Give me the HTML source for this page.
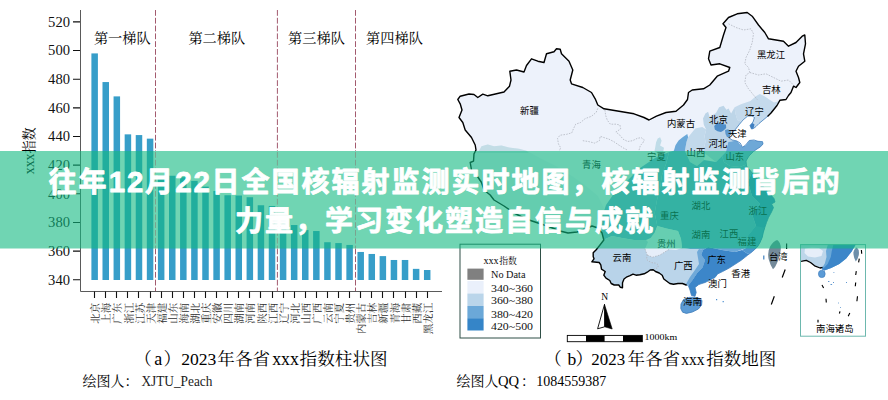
<!DOCTYPE html><html><head><meta charset="utf-8"><title>chart</title><style>html,body{margin:0;padding:0;background:#fff}body{width:888px;height:400px;overflow:hidden;font-family:"Liberation Serif",serif}svg{display:block}</style></head><body><svg width="888" height="400" viewBox="0 0 888 400"><defs><clipPath id="cn"><path d="M457.8 99.5L460.2 96.2L469.0 94.0L474.0 94.5L477.8 97.5L482.8 94.2L487.8 95.8L504.0 92.0L509.5 86.2L511.0 80.0L509.8 71.2L516.5 70.0L524.0 72.0L526.5 65.5L531.5 58.8L537.8 61.2L544.0 62.5L546.5 53.8L554.0 51.8L556.5 48.8L560.2 49.2L561.5 53.8L569.0 61.2L572.8 70.0L570.2 80.0L571.5 83.8L582.8 87.5L591.5 92.5L595.2 98.8L597.8 105.0L604.0 108.8L619.0 111.2L634.0 113.8L644.0 117.5L649.0 120.0L656.5 116.2L666.0 112.5L676.0 111.2L683.5 105.0L687.5 99.5L688.5 92.5L692.2 90.0L703.5 88.8L709.8 85.0L717.2 76.2L728.5 71.2L729.8 67.5L719.8 63.8L711.0 65.0L708.5 58.8L709.8 51.2L719.8 47.5L723.5 35.0L726.0 27.5L723.0 23.8L728.5 17.5L737.2 13.8L747.2 12.5L752.2 16.2L758.5 25.0L764.8 32.5L768.5 38.8L776.0 40.0L783.5 41.2L788.5 46.2L796.0 42.5L802.2 36.2L804.8 35.0L805.5 43.8L803.5 53.8L804.8 61.2L798.5 66.2L796.0 71.2L798.5 77.5L799.8 82.5L796.0 87.5L793.5 86.2L791.0 92.5L788.5 95.5L786.0 99.5L780.0 100.2L777.0 105.5L774.0 109.2L771.0 113.0L768.0 116.0L765.0 118.5L762.0 121.0L759.0 123.5L756.0 126.5L753.5 128.5L751.5 129.0L750.0 125.5L753.0 122.0L754.5 117.5L752.0 116.0L747.8 116.0L743.2 119.8L739.5 124.2L736.5 128.0L733.5 131.8L729.8 135.2L729.0 137.8L732.0 140.0L736.5 140.8L740.2 143.0L742.5 147.2L745.5 145.2L749.2 140.5L754.0 140.0L758.0 141.3L762.5 141.6L763.0 144.0L760.5 146.8L757.0 149.0L753.5 151.5L749.0 156.0L746.0 161.0L746.5 166.0L751.0 171.5L757.0 178.5L764.0 187.5L770.0 194.0L774.0 198.5L775.0 202.0L771.5 204.0L773.5 207.5L771.5 212.0L768.5 217.5L766.5 222.5L764.8 227.5L763.3 232.5L762.2 237.5L759.8 243.0L757.3 247.0L752.5 251.5L747.5 255.3L741.2 260.3L735.0 264.3L728.8 268.3L722.5 271.6L717.5 274.0L715.0 277.5L710.0 280.0L705.0 282.5L698.8 284.5L695.0 287.5L696.2 292.5L695.0 296.2L691.5 295.5L690.0 290.0L688.2 285.3L686.2 285.0L682.5 283.5L678.0 283.5L673.5 284.2L669.8 283.5L666.8 281.2L663.8 279.0L662.2 275.2L659.2 273.0L655.5 271.5L653.2 269.7L650.2 270.0L647.2 272.2L644.2 273.8L639.8 274.8L636.0 275.2L633.0 274.2L630.0 275.7L627.0 276.8L624.0 279.0L622.5 282.8L622.5 287.7L620.2 287.2L618.8 285.0L614.2 285.0L611.2 283.5L609.8 280.5L606.0 278.2L603.8 275.2L605.2 271.5L601.5 269.2L600.8 264.8L599.2 262.5L591.8 261.8L594.0 258.8L593.2 256.5L593.2 252.8L596.2 249.8L599.2 246.0L603.8 240.0L602.0 233.0L598.0 228.0L592.0 226.0L585.0 229.0L577.0 232.0L568.0 233.0L560.0 231.0L550.0 227.0L538.0 223.0L526.0 219.0L514.0 213.0L504.0 206.0L494.0 200.0L490.2 195.0L484.0 190.0L481.5 182.5L476.5 175.0L471.5 170.0L470.2 162.5L473.5 161.2L474.0 153.8L476.0 150.0L475.2 145.0L471.5 137.5L465.2 130.0L462.8 122.5L459.0 117.5L462.0 110.0L460.2 103.8L457.8 99.5Z"/></clipPath></defs><g fill="#379ec9"><rect x="91.40" y="53.41" width="6.50" height="226.59"/><rect x="102.49" y="82.06" width="6.50" height="197.94"/><rect x="113.57" y="96.39" width="6.50" height="183.61"/><rect x="124.66" y="134.35" width="6.50" height="145.65"/><rect x="135.74" y="135.07" width="6.50" height="144.93"/><rect x="146.83" y="138.65" width="6.50" height="141.35"/><rect x="157.91" y="175.18" width="6.50" height="104.82"/><rect x="169.00" y="175.75" width="6.50" height="104.25"/><rect x="180.08" y="177.18" width="6.50" height="102.82"/><rect x="191.17" y="180.91" width="6.50" height="99.09"/><rect x="202.25" y="186.64" width="6.50" height="93.36"/><rect x="213.34" y="190.94" width="6.50" height="89.06"/><rect x="224.42" y="195.23" width="6.50" height="84.77"/><rect x="235.51" y="195.52" width="6.50" height="84.48"/><rect x="246.59" y="197.24" width="6.50" height="82.76"/><rect x="257.68" y="205.26" width="6.50" height="74.74"/><rect x="268.76" y="205.98" width="6.50" height="74.02"/><rect x="279.85" y="223.88" width="6.50" height="56.12"/><rect x="290.93" y="225.03" width="6.50" height="54.97"/><rect x="302.01" y="230.04" width="6.50" height="49.96"/><rect x="313.10" y="231.04" width="6.50" height="48.96"/><rect x="324.19" y="242.22" width="6.50" height="37.78"/><rect x="335.27" y="243.08" width="6.50" height="36.92"/><rect x="346.36" y="244.94" width="6.50" height="35.06"/><rect x="357.44" y="251.96" width="6.50" height="28.04"/><rect x="368.52" y="253.96" width="6.50" height="26.04"/><rect x="379.61" y="256.11" width="6.50" height="23.89"/><rect x="390.70" y="259.98" width="6.50" height="20.02"/><rect x="401.78" y="259.98" width="6.50" height="20.02"/><rect x="412.87" y="268.86" width="6.50" height="11.14"/><rect x="423.95" y="270.01" width="6.50" height="9.99"/></g><path d="M155.5 10V151M155.5 248.5V291" fill="none" stroke="#a35a6e" stroke-width="1" stroke-dasharray="5.8 2"/><path d="M277.4 10V151M277.4 248.5V291" fill="none" stroke="#a35a6e" stroke-width="1" stroke-dasharray="5.8 2"/><path d="M355.5 10V151M355.5 248.5V291" fill="none" stroke="#a35a6e" stroke-width="1" stroke-dasharray="5.8 2"/><path d="M80.5 10V291.5H442" fill="none" stroke="#5a5a5a" stroke-width="1"/><path d="M73 279.75H80M73 251.10H80M73 222.45H80M73 193.80H80M73 165.15H80M73 136.50H80M73 107.85H80M73 79.20H80M73 50.55H80M73 21.90H80M94.5 291.5V298M105.5 291.5V298M116.5 291.5V298M127.5 291.5V298M138.5 291.5V298M150.5 291.5V298M161.5 291.5V298M172.5 291.5V298M183.5 291.5V298M194.5 291.5V298M205.5 291.5V298M216.5 291.5V298M227.5 291.5V298M238.5 291.5V298M249.5 291.5V298M260.5 291.5V298M272.5 291.5V298M283.5 291.5V298M294.5 291.5V298M305.5 291.5V298M316.5 291.5V298M327.5 291.5V298M338.5 291.5V298M349.5 291.5V298M360.5 291.5V298M371.5 291.5V298M382.5 291.5V298M393.5 291.5V298M405.5 291.5V298M416.5 291.5V298M427.5 291.5V298" fill="none" stroke="#111" stroke-width="1.1"/><g font-family='"Liberation Serif",serif' font-size="14.6" text-anchor="end" fill="#111"><text x="70" y="284.65">340</text><text x="70" y="256.00">360</text><text x="70" y="227.35">380</text><text x="70" y="198.70">400</text><text x="70" y="170.05">420</text><text x="70" y="141.40">440</text><text x="70" y="112.75">460</text><text x="70" y="84.10">480</text><text x="70" y="55.45">500</text><text x="70" y="26.80">520</text></g><g font-family='"Liberation Serif","Noto Serif CJK SC",serif' font-size="14.2" fill="#000"><text x="93.9" y="42.6">第一梯队</text><text x="188.4" y="42.6">第二梯队</text><text x="288.1" y="42.6">第三梯队</text><text x="366.1" y="42.6">第四梯队</text></g><g transform="translate(34.3 153.6) rotate(-90)"><text x="0" y="0" font-family='"Liberation Serif","Noto Serif CJK SC",serif' font-size="13.2">指数</text><text x="-20.6" y="0" font-family='"Liberation Serif",serif' font-size="13.8">xxx</text></g><g fill="#303030" font-family='"Liberation Serif","Noto Serif CJK SC",serif' font-size="10.5" text-anchor="end"><text transform="translate(99.25 302.8) rotate(-90)" x="0" y="0">北京</text><text transform="translate(110.34 302.8) rotate(-90)" x="0" y="0">上海</text><text transform="translate(121.42 302.8) rotate(-90)" x="0" y="0">广东</text><text transform="translate(132.50 302.8) rotate(-90)" x="0" y="0">浙江</text><text transform="translate(143.59 302.8) rotate(-90)" x="0" y="0">江苏</text><text transform="translate(154.68 302.8) rotate(-90)" x="0" y="0">天津</text><text transform="translate(165.76 302.8) rotate(-90)" x="0" y="0">福建</text><text transform="translate(176.84 302.8) rotate(-90)" x="0" y="0">山东</text><text transform="translate(187.93 302.8) rotate(-90)" x="0" y="0">海南</text><text transform="translate(199.02 302.8) rotate(-90)" x="0" y="0">湖北</text><text transform="translate(210.10 302.8) rotate(-90)" x="0" y="0">重庆</text><text transform="translate(221.19 302.8) rotate(-90)" x="0" y="0">安徽</text><text transform="translate(232.27 302.8) rotate(-90)" x="0" y="0">四川</text><text transform="translate(243.36 302.8) rotate(-90)" x="0" y="0">湖南</text><text transform="translate(254.44 302.8) rotate(-90)" x="0" y="0">河南</text><text transform="translate(265.53 302.8) rotate(-90)" x="0" y="0">陕西</text><text transform="translate(276.61 302.8) rotate(-90)" x="0" y="0">江西</text><text transform="translate(287.70 302.8) rotate(-90)" x="0" y="0">辽宁</text><text transform="translate(298.78 302.8) rotate(-90)" x="0" y="0">河北</text><text transform="translate(309.87 302.8) rotate(-90)" x="0" y="0">山西</text><text transform="translate(320.95 302.8) rotate(-90)" x="0" y="0">广西</text><text transform="translate(332.04 302.8) rotate(-90)" x="0" y="0">云南</text><text transform="translate(343.12 302.8) rotate(-90)" x="0" y="0">宁夏</text><text transform="translate(354.21 302.8) rotate(-90)" x="0" y="0">贵州</text><text transform="translate(365.29 302.8) rotate(-90)" x="0" y="0">内蒙古</text><text transform="translate(376.38 302.8) rotate(-90)" x="0" y="0">吉林</text><text transform="translate(387.46 302.8) rotate(-90)" x="0" y="0">新疆</text><text transform="translate(398.55 302.8) rotate(-90)" x="0" y="0">青海</text><text transform="translate(409.63 302.8) rotate(-90)" x="0" y="0">甘肃</text><text transform="translate(420.72 302.8) rotate(-90)" x="0" y="0">西藏</text><text transform="translate(431.80 302.8) rotate(-90)" x="0" y="0">黑龙江</text></g><text x="134.2" y="365.2" font-family='"Liberation Serif","Noto Serif CJK SC",serif' font-size="17.6">（</text><text x="154.2" y="365.2" font-family='"Liberation Serif",serif' font-size="18.0">a</text><text x="163.6" y="365.2" font-family='"Liberation Serif","Noto Serif CJK SC",serif' font-size="17.6">）</text><text x="181.2" y="365.2" font-family='"Liberation Serif",serif' font-size="17.6" textLength="35.2" lengthAdjust="spacingAndGlyphs">2023</text><text x="217.3" y="365.2" font-family='"Liberation Serif","Noto Serif CJK SC",serif' font-size="17.6">年各省</text><text x="272.2" y="365.2" font-family='"Liberation Serif",serif' font-size="18.0" textLength="26.8" lengthAdjust="spacingAndGlyphs">xxx</text><text x="299.6" y="365.2" font-family='"Liberation Serif","Noto Serif CJK SC",serif' font-size="17.6">指数柱状图</text><text x="82.5" y="386" font-family='"Liberation Serif","Noto Serif CJK SC",serif' font-size="14">绘图人：</text><text x="141.4" y="386" font-family='"Liberation Serif",serif' font-size="14" fill="#222" textLength="71" lengthAdjust="spacingAndGlyphs">XJTU_Peach</text><path d="M457.8 99.5L460.2 96.2L469.0 94.0L474.0 94.5L477.8 97.5L482.8 94.2L487.8 95.8L504.0 92.0L509.5 86.2L511.0 80.0L509.8 71.2L516.5 70.0L524.0 72.0L526.5 65.5L531.5 58.8L537.8 61.2L544.0 62.5L546.5 53.8L554.0 51.8L556.5 48.8L560.2 49.2L561.5 53.8L569.0 61.2L572.8 70.0L570.2 80.0L571.5 83.8L582.8 87.5L591.5 92.5L595.2 98.8L597.8 105.0L604.0 108.8L619.0 111.2L634.0 113.8L644.0 117.5L649.0 120.0L656.5 116.2L666.0 112.5L676.0 111.2L683.5 105.0L687.5 99.5L688.5 92.5L692.2 90.0L703.5 88.8L709.8 85.0L717.2 76.2L728.5 71.2L729.8 67.5L719.8 63.8L711.0 65.0L708.5 58.8L709.8 51.2L719.8 47.5L723.5 35.0L726.0 27.5L723.0 23.8L728.5 17.5L737.2 13.8L747.2 12.5L752.2 16.2L758.5 25.0L764.8 32.5L768.5 38.8L776.0 40.0L783.5 41.2L788.5 46.2L796.0 42.5L802.2 36.2L804.8 35.0L805.5 43.8L803.5 53.8L804.8 61.2L798.5 66.2L796.0 71.2L798.5 77.5L799.8 82.5L796.0 87.5L793.5 86.2L791.0 92.5L788.5 95.5L786.0 99.5L780.0 100.2L777.0 105.5L774.0 109.2L771.0 113.0L768.0 116.0L765.0 118.5L762.0 121.0L759.0 123.5L756.0 126.5L753.5 128.5L751.5 129.0L750.0 125.5L753.0 122.0L754.5 117.5L752.0 116.0L747.8 116.0L743.2 119.8L739.5 124.2L736.5 128.0L733.5 131.8L729.8 135.2L729.0 137.8L732.0 140.0L736.5 140.8L740.2 143.0L742.5 147.2L745.5 145.2L749.2 140.5L754.0 140.0L758.0 141.3L762.5 141.6L763.0 144.0L760.5 146.8L757.0 149.0L753.5 151.5L749.0 156.0L746.0 161.0L746.5 166.0L751.0 171.5L757.0 178.5L764.0 187.5L770.0 194.0L774.0 198.5L775.0 202.0L771.5 204.0L773.5 207.5L771.5 212.0L768.5 217.5L766.5 222.5L764.8 227.5L763.3 232.5L762.2 237.5L759.8 243.0L757.3 247.0L752.5 251.5L747.5 255.3L741.2 260.3L735.0 264.3L728.8 268.3L722.5 271.6L717.5 274.0L715.0 277.5L710.0 280.0L705.0 282.5L698.8 284.5L695.0 287.5L696.2 292.5L695.0 296.2L691.5 295.5L690.0 290.0L688.2 285.3L686.2 285.0L682.5 283.5L678.0 283.5L673.5 284.2L669.8 283.5L666.8 281.2L663.8 279.0L662.2 275.2L659.2 273.0L655.5 271.5L653.2 269.7L650.2 270.0L647.2 272.2L644.2 273.8L639.8 274.8L636.0 275.2L633.0 274.2L630.0 275.7L627.0 276.8L624.0 279.0L622.5 282.8L622.5 287.7L620.2 287.2L618.8 285.0L614.2 285.0L611.2 283.5L609.8 280.5L606.0 278.2L603.8 275.2L605.2 271.5L601.5 269.2L600.8 264.8L599.2 262.5L591.8 261.8L594.0 258.8L593.2 256.5L593.2 252.8L596.2 249.8L599.2 246.0L603.8 240.0L602.0 233.0L598.0 228.0L592.0 226.0L585.0 229.0L577.0 232.0L568.0 233.0L560.0 231.0L550.0 227.0L538.0 223.0L526.0 219.0L514.0 213.0L504.0 206.0L494.0 200.0L490.2 195.0L484.0 190.0L481.5 182.5L476.5 175.0L471.5 170.0L470.2 162.5L473.5 161.2L474.0 153.8L476.0 150.0L475.2 145.0L471.5 137.5L465.2 130.0L462.8 122.5L459.0 117.5L462.0 110.0L460.2 103.8L457.8 99.5Z" fill="#edf2fb"/><g clip-path="url(#cn)"><path d="M470.0 150.0L479.0 150.0L481.5 146.2L487.8 144.5L494.0 146.2L501.5 145.5L509.0 147.5L519.0 148.8L526.5 150.8L540.0 158.0L556.0 166.0L572.0 176.0L586.0 186.0L598.0 196.0L604.0 208.0L602.0 220.0L604.0 234.0L606.0 246.0L560.0 242.0L500.0 218.0L468.0 175.0Z" fill="#e2ebf6"/><path d="M476.0 153.0L479.0 151.0L481.5 146.2L487.8 144.5L494.0 146.2L501.5 145.5L509.0 147.5L519.0 148.8L526.5 150.8L529.0 153.0Z" fill="#c3dde6"/><path d="M734.6 107.3L740.9 104.2L750.4 101.0L755.9 96.3L759.8 94.0L764.5 96.3L769.3 99.5L774.0 102.6L780.0 101.0L784.0 100.0L776.0 110.0L768.0 119.0L758.0 128.0L751.0 132.0L748.5 126.0L753.0 120.0L755.0 116.5L748.0 115.5L743.0 120.0L740.9 121.5L737.4 120.0L735.4 113.6Z" fill="#c5daec"/><path d="M705.4 113.6L708.1 111.8L709.7 117.1L712.2 115.2L716.0 112.9L719.1 107.3L723.6 105.8L726.4 109.7L728.6 108.6L731.1 113.6L734.6 107.3L735.4 113.6L737.4 120.0L742.0 122.0L736.0 130.0L731.5 137.0L734.0 141.0L728.3 142.0L725.9 152.0L716.0 162.0L703.0 152.0L705.4 142.0L704.6 135.7L706.2 129.4L703.8 124.7L703.0 118.4Z" fill="#bdd5e8"/><path d="M714.2 126.0L716.5 123.6L720.5 123.0L723.5 124.2L726.0 124.5L726.2 128.0L723.5 130.5L721.0 132.0L717.5 131.2L714.8 129.6Z" fill="#4e8dc8"/><path d="M725.0 130.0L728.0 129.2L730.8 131.0L731.0 134.5L729.5 137.5L727.0 137.0L725.5 134.0Z" fill="#5e99cc"/><path d="M692.0 132.6L695.2 128.6L702.3 127.0L706.2 129.4L704.6 135.7L705.4 142.0L703.0 152.0L704.0 160.0L697.0 166.0L690.0 162.0L684.9 150.7L686.5 142.0L688.1 137.3Z" fill="#c2d9eb"/><path d="M656.1 142.3L657.7 138.4L660.1 137.3L661.6 140.7L660.1 145.4L664.0 147.8L663.2 152.0L658.0 154.0L654.5 151.0L655.3 147.0Z" fill="#bfdce8"/><path d="M687.3 134.1L688.1 137.3L686.5 142.0L684.9 150.7L690.0 162.0L697.0 166.0L704.0 160.0L716.0 162.0L722.0 156.0L724.0 162.0L730.0 166.0L740.0 167.0L750.0 163.0L752.0 172.0L748.0 182.0L752.0 196.0L760.0 204.0L752.0 214.0L756.0 226.0L748.0 236.0L746.0 248.0L735.0 252.0L722.0 250.0L708.0 247.0L703.0 250.0L690.0 249.0L682.0 248.0L681.0 239.0L678.0 231.0L666.4 228.6L657.3 226.0L654.7 213.0L657.0 200.0L660.0 188.0L662.0 175.0L666.0 164.0L669.0 152.0L673.9 150.7L675.5 145.2L678.6 140.4L682.6 137.3Z" fill="#6aa8d8"/><path d="M669.0 152.0L655.0 158.0L640.0 168.0L628.0 180.0L615.0 192.0L606.0 205.0L601.0 220.0L602.0 234.0L603.0 240.0L612.0 236.0L622.0 238.0L634.0 240.0L646.0 240.0L655.0 236.0L655.0 232.0L657.3 226.0L654.7 213.0L657.0 200.0L660.0 188.0L662.0 175.0L666.0 164.0Z" fill="#71abd9"/><path d="M725.9 152.0L728.3 142.0L734.0 141.0L737.0 141.0L742.5 147.0L746.0 145.0L750.0 140.0L758.0 141.0L764.0 142.0L764.0 147.0L756.0 150.0L750.0 157.0L750.0 163.0L740.0 167.0L730.0 166.0L724.0 162.0L722.0 156.0Z" fill="#6ea8d7"/><path d="M750.0 163.0L750.0 156.0L757.0 168.0L766.0 186.0L776.0 196.0L777.0 203.0L776.0 214.0L770.0 226.0L765.0 238.0L758.0 250.0L750.0 246.0L748.0 236.0L756.0 226.0L752.0 214.0L760.0 204.0L752.0 196.0L748.0 182.0L752.0 172.0Z" fill="#4189cb"/><path d="M746.0 248.0L748.0 236.0L756.0 226.0L765.0 228.0L766.0 236.0L760.0 246.0L754.0 252.0L748.0 254.0L742.0 250.0Z" fill="#4f96d0"/><path d="M655.0 232.0L657.3 226.0L666.4 228.6L678.0 231.0L681.0 239.0L682.0 248.0L676.0 250.0L669.0 249.5L666.0 251.2L660.0 255.0L652.5 257.2L647.2 255.0L645.0 249.0L648.0 242.0L652.0 236.0Z" fill="#e6eef9"/><path d="M603.0 240.0L612.0 236.0L622.0 238.0L634.0 240.0L646.0 240.0L648.0 242.0L645.0 249.0L647.2 255.0L646.5 259.5L651.0 262.5L655.5 263.2L658.5 264.8L657.8 267.8L654.0 269.2L652.0 274.0L640.0 282.0L624.0 294.0L600.0 284.0L586.0 260.0L596.0 244.0Z" fill="#b8d3e9"/><path d="M647.2 255.0L652.5 257.2L660.0 255.0L666.0 251.2L669.0 249.5L676.0 250.0L682.0 248.0L690.0 249.0L699.0 249.0L703.0 250.0L701.2 255.0L705.0 260.0L702.5 267.5L697.5 272.5L692.5 280.0L688.8 287.0L676.0 290.0L664.0 288.0L656.0 276.0L652.0 272.0L654.0 269.2L657.8 267.8L658.5 264.8L655.5 263.2L651.0 262.5L646.5 259.5Z" fill="#bbd5ea"/><path d="M699.0 249.0L703.0 250.0L701.2 255.0L705.0 260.0L702.5 267.5L697.5 272.5L692.5 280.0L688.8 285.0L686.0 284.0L690.0 277.0L695.0 270.0L699.0 264.0L698.0 258.0L697.0 252.0Z" fill="#70a9d8"/><path d="M703.0 250.0L708.0 247.0L722.0 250.0L735.0 252.0L742.0 250.0L748.0 254.0L760.0 250.0L750.0 262.0L730.0 274.0L712.0 282.0L700.0 284.0L700.0 298.0L690.0 298.0L688.8 285.0L692.5 280.0L697.5 272.5L702.5 267.5L705.0 260.0L701.2 255.0Z" fill="#3c86c9"/><path d="M750.0 125.0L752.5 123.0L754.5 124.5L753.5 128.5L751.5 130.5L749.8 129.0Z" fill="#3f7fc2"/></g><path d="M645.0 249.0L647.2 255.0L646.5 259.5L651.0 262.5L655.5 263.2L658.5 264.8L657.8 267.8L654.0 269.2M647.2 255.0L652.5 257.2L660.0 255.0L666.0 251.2L669.0 249.5M597.8 108.4L596.2 112.3L591.5 116.3L585.2 118.6L580.4 122.6L575.7 124.2L573.4 128.9L571.8 132.8L566.3 134.4L560.0 135.2L557.6 138.4L558.4 143.9L560.7 147.8L559.2 151.0M604.9 110.0L605.7 115.5L607.3 120.2L610.4 124.2L615.9 124.2L619.9 125.0L620.7 128.9L615.9 132.0L619.9 135.2L623.0 139.1L627.7 141.5L632.5 140.7L637.2 138.4L641.1 137.6L644.3 139.9L642.7 143.1L640.4 145.4L638.8 151.0M582.8 140.7L588.3 141.5L594.6 143.1L599.4 140.7L600.2 136.3L604.1 137.6L608.8 139.1L613.6 141.5L618.3 144.7L623.0 147.8L627.7 150.2M728.5 23.8L736.0 27.5L743.5 30.0L751.0 28.8L753.5 33.8L752.2 42.5L749.8 50.0L746.0 57.5L744.8 63.8L748.5 67.5L749.8 72.5L746.0 75.0L744.8 82.5L748.5 88.8L753.5 95.0L757.2 99.5M749.8 72.5L758.5 75.0L766.0 73.8L773.5 77.5L781.0 81.2L788.5 80.0L793.5 85.0L796.0 87.5" fill="none" stroke="#a9adb8" stroke-width="0.7" stroke-dasharray="1.6 1.2"/><path d="M768.0 116.0L765.0 118.5L762.0 121.0L759.0 123.5L756.0 126.5L753.5 128.5L751.5 129.0L750.0 125.5L753.0 122.0L754.5 117.5L752.0 116.0L747.8 116.0L743.2 119.8L739.5 124.2L736.5 128.0L733.5 131.8L729.8 135.2L729.0 137.8L732.0 140.0L736.5 140.8L740.2 143.0L742.5 147.2L745.5 145.2L749.2 140.5L754.0 140.0L758.0 141.3L762.5 141.6L763.0 144.0L760.5 146.8L757.0 149.0L753.5 151.5L749.0 156.0L746.0 161.0L746.5 166.0L751.0 171.5L757.0 178.5L764.0 187.5L770.0 194.0L774.0 198.5L775.0 202.0L771.5 204.0L773.5 207.5L771.5 212.0L768.5 217.5L766.5 222.5L764.8 227.5L763.3 232.5L762.2 237.5L759.8 243.0L757.3 247.0L752.5 251.5L747.5 255.3L741.2 260.3L735.0 264.3L728.8 268.3L722.5 271.6L717.5 274.0L715.0 277.5L710.0 280.0L705.0 282.5L698.8 284.5L695.0 287.5L696.2 292.5L695.0 296.2L691.5 295.5L690.0 290.0L688.2 285.3L686.2 285.0" fill="none" stroke="#3f7fbe" stroke-width="0.8" stroke-linejoin="round"/><path d="M457.8 99.5L460.2 96.2L469.0 94.0L474.0 94.5L477.8 97.5L482.8 94.2L487.8 95.8L504.0 92.0L509.5 86.2L511.0 80.0L509.8 71.2L516.5 70.0L524.0 72.0L526.5 65.5L531.5 58.8L537.8 61.2L544.0 62.5L546.5 53.8L554.0 51.8L556.5 48.8L560.2 49.2L561.5 53.8L569.0 61.2L572.8 70.0L570.2 80.0L571.5 83.8L582.8 87.5L591.5 92.5L595.2 98.8L597.8 105.0L604.0 108.8L619.0 111.2L634.0 113.8L644.0 117.5L649.0 120.0L656.5 116.2L666.0 112.5L676.0 111.2L683.5 105.0L687.5 99.5L688.5 92.5L692.2 90.0L703.5 88.8L709.8 85.0L717.2 76.2L728.5 71.2L729.8 67.5L719.8 63.8L711.0 65.0L708.5 58.8L709.8 51.2L719.8 47.5L723.5 35.0L726.0 27.5L723.0 23.8L728.5 17.5L737.2 13.8L747.2 12.5L752.2 16.2L758.5 25.0L764.8 32.5L768.5 38.8L776.0 40.0L783.5 41.2L788.5 46.2L796.0 42.5L802.2 36.2L804.8 35.0L805.5 43.8L803.5 53.8L804.8 61.2L798.5 66.2L796.0 71.2L798.5 77.5L799.8 82.5L796.0 87.5L793.5 86.2L791.0 92.5L788.5 95.5L786.0 99.5L780.0 100.2L777.0 105.5L774.0 109.2L771.0 113.0L768.0 116.0M686.2 285.0L682.5 283.5L678.0 283.5L673.5 284.2L669.8 283.5L666.8 281.2L663.8 279.0L662.2 275.2L659.2 273.0L655.5 271.5L653.2 269.7L650.2 270.0L647.2 272.2L644.2 273.8L639.8 274.8L636.0 275.2L633.0 274.2L630.0 275.7L627.0 276.8L624.0 279.0L622.5 282.8L622.5 287.7L620.2 287.2L618.8 285.0L614.2 285.0L611.2 283.5L609.8 280.5L606.0 278.2L603.8 275.2L605.2 271.5L601.5 269.2L600.8 264.8L599.2 262.5L591.8 261.8L594.0 258.8L593.2 256.5L593.2 252.8L596.2 249.8L599.2 246.0L603.8 240.0L602.0 233.0L598.0 228.0L592.0 226.0L585.0 229.0L577.0 232.0L568.0 233.0L560.0 231.0L550.0 227.0L538.0 223.0L526.0 219.0L514.0 213.0L504.0 206.0L494.0 200.0L490.2 195.0L484.0 190.0L481.5 182.5L476.5 175.0L471.5 170.0L470.2 162.5L473.5 161.2L474.0 153.8L476.0 150.0L475.2 145.0L471.5 137.5L465.2 130.0L462.8 122.5L459.0 117.5L462.0 110.0L460.2 103.8L457.8 99.5" fill="none" stroke="#000" stroke-width="1.4" stroke-linejoin="round" stroke-linecap="round"/><path d="M681 304L683.6 299.4L689.5 297.4L695 297.2L699.5 298.4L702 300.4L701.6 305L698.4 309L692.4 312L686.4 313.4L682.6 312.2L680.8 308.6Z" fill="#5b9bd6" stroke="#3a78b8" stroke-width="0.8" stroke-linejoin="round"/><path d="M716 299.6h1.2M722.6 301.6h1.2" stroke="#4d8fd0" stroke-width="1.2" fill="none"/><path d="M777.2 240Q781 242.5 780.8 249Q780 257 776.8 263.5Q775 268 773 269.3Q770.4 265.5 768.6 259Q767.2 251.5 770.4 246Q773.6 241.2 777.2 240Z" fill="#748a9a"/><path d="M785.2 269.5L782.2 277.5M774.3 296.3L771.3 304.5M786.6 243.5V249" stroke="#000" stroke-width="1.2" fill="none"/><path d="M763.8 255.5v4" stroke="#3f7fbe" stroke-width="1.2"/><g font-family='"Liberation Sans","Noto Sans CJK SC",sans-serif' font-size="9.4" fill="#000"><text x="756.9" y="57.6">黑龙江</text><text x="761.9" y="92.6">吉林</text><text x="745.1" y="114.6">辽宁</text><text x="520.1" y="113.6">新疆</text><text x="666.9" y="127.3">内蒙古</text><text x="709.0" y="123.4">北京</text><text x="727.9" y="136.8">天津</text><text x="708.4" y="147.4">河北</text><text x="686.6" y="155.6">山西</text><text x="725.4" y="160.0">山东</text><text x="647.1" y="160.0">宁夏</text><text x="582.1" y="168.0">青海</text><text x="691.6" y="209.3">湖北</text><text x="660.1" y="218.6">重庆</text><text x="748.6" y="214.2">浙江</text><text x="691.6" y="238.4">湖南</text><text x="719.6" y="236.6">江西</text><text x="737.6" y="245.3">福建</text><text x="656.9" y="246.6">贵州</text><text x="612.6" y="260.6">云南</text><text x="673.9" y="269.4">广西</text><text x="707.2" y="263.0">广东</text><text x="731.3" y="277.0">香港</text><text x="708.0" y="287.3">澳门</text><text x="768.9" y="259.6">台湾</text><text x="683.1" y="305.4">海南</text></g><rect x="460" y="244.2" width="80.5" height="93.8" fill="#fff" stroke="#2f4f46" stroke-width="1"/><g transform="translate(499.3 263.7)"><text x="0" y="0" font-family='"Liberation Serif","Noto Serif CJK SC",serif' font-size="8.8">指数</text><text x="-0.6" y="0" text-anchor="end" font-family='"Liberation Serif",serif' font-size="10.2">xxx</text></g><rect x="467.4" y="268.6" width="16.2" height="11.2" fill="#808080"/><rect x="467.4" y="281.0" width="16.2" height="12.5" fill="#eaf0fb"/><rect x="467.4" y="293.5" width="16.2" height="12.5" fill="#bad5ea"/><rect x="467.4" y="306.0" width="16.2" height="12.2" fill="#6ba8d8"/><rect x="467.4" y="318.2" width="16.2" height="12.3" fill="#3585c8"/><g font-family='"Liberation Serif",serif' font-size="11" fill="#111"><text x="491" y="277.9" textLength="34.5" lengthAdjust="spacingAndGlyphs">No Data</text><text x="491" y="291.7" textLength="42" lengthAdjust="spacingAndGlyphs">340~360</text><text x="491" y="304.3" textLength="42" lengthAdjust="spacingAndGlyphs">360~380</text><text x="491" y="317.8" textLength="42" lengthAdjust="spacingAndGlyphs">380~420</text><text x="491" y="329.9" textLength="42" lengthAdjust="spacingAndGlyphs">420~500</text></g><text x="604.8" y="299.6" text-anchor="middle" font-family='"Liberation Serif",serif' font-size="9.5">N</text><path d="M604.5 304.4L612.2 329L604.6 326.8Z" fill="#000" stroke="#000" stroke-width="0.6" stroke-linejoin="round"/><path d="M604.5 304.4L597.6 328.8L604.6 326.8Z" fill="#fff" stroke="#000" stroke-width="0.9" stroke-linejoin="round"/><rect x="567.3" y="335.4" width="75" height="6.3" fill="#fff" stroke="#000" stroke-width="0.9"/><path d="M586 335.4h18.6v6.3h-18.6zM623 335.4h19.3v6.3h-19.3z" fill="#000"/><text x="644.6" y="340.4" font-family='"Liberation Serif",serif' font-size="8.4" textLength="32.5" lengthAdjust="spacingAndGlyphs">1000km</text><clipPath id="ins"><rect x="800.5" y="244.6" width="65" height="91.6"/></clipPath><rect x="800.5" y="244.6" width="65" height="91.6" fill="#fff"/><g clip-path="url(#ins)"><path d="M800 244H850L846 258L839 264L831 268L824.5 270.5L822.5 267.6L820 268L814.6 265.8L810.5 262.5L806.3 260.3L800 261.3Z" fill="#bdd6ea"/><path d="M805 248.5L812 247.5L819 248L823 251L821.5 256L815 257.5L808 256.5L804.5 253Z" fill="#e6eef9"/><path d="M828 244H856L851.7 251.5L846.2 258.4L839.3 263.9L831.1 268L824.2 270.4L821.8 268.5L824.8 263.5L826.5 257L826 251Z" fill="#6aa8d8"/><path d="M833.5 244H856L851.7 251.5L846.2 258.4L839.3 263.9L831.1 268L824.2 270.4L823.4 268.5L827.6 263.9L830.8 257L831.7 251.5Z" fill="#3c86c9"/><path d="M800 261.3L802.2 261.1L806.3 260.3L810.5 262.5L814.6 265.8L820.1 268L822.8 267.4" fill="none" stroke="#000" stroke-width="1.3" stroke-linejoin="round"/><path d="M822.6 267.5L823.2 270" stroke="#3c86c9" stroke-width="1.6"/><ellipse cx="821.8" cy="273.9" rx="3.4" ry="3.7" fill="#5b9bd6" stroke="#3a78b8" stroke-width="0.6"/><path d="M856.8 247.6Q859.6 249.8 858.8 255Q857.8 259.4 855.8 261.6Q853.4 257.2 853.4 252.6Q854.2 248.6 856.8 247.6Z" fill="#6d8eaa"/><path d="M861.4 250L861.7 253.8M859.3 258.6L858.6 262.4M856.3 271.2L855.7 275M855.7 282.5L855.3 286.2M857.5 296.2L856.9 301.2M849.8 313L848.2 316.3M826 298.7L826.3 302.5M822 285L823.6 288M818 319.8V322.6M837 329L838.5 331M840 311.3l-.6 2.2" stroke="#000" stroke-width="1.15" fill="none"/><path d="M828 281.5h1.4M830.5 284.5h1.6M833 282.5h1M846 282.5h1M833.5 272.5h.8M838 303h.8M840 307.5h.8" stroke="#5f97cf" stroke-width="1" fill="none"/></g><rect x="800.5" y="244.6" width="65" height="91.6" fill="none" stroke="#6db8ae" stroke-width="1"/><text x="816" y="331.6" font-family='"Liberation Sans","Noto Sans CJK SC",sans-serif' font-size="9.4">南海诸岛</text><text x="544.2" y="365.2" font-family='"Liberation Serif","Noto Serif CJK SC",serif' font-size="17.6">（</text><text x="567.4" y="365.2" font-family='"Liberation Serif",serif' font-size="17.6">b</text><text x="575.4" y="365.2" font-family='"Liberation Serif","Noto Serif CJK SC",serif' font-size="17.6">）</text><text x="591.3" y="365.2" font-family='"Liberation Serif",serif' font-size="17.6" textLength="33.8" lengthAdjust="spacingAndGlyphs">2023</text><text x="627.4" y="365.2" font-family='"Liberation Serif","Noto Serif CJK SC",serif' font-size="17.6">年各省</text><text x="681.2" y="365.2" font-family='"Liberation Serif",serif' font-size="17.0" textLength="23.4" lengthAdjust="spacingAndGlyphs">xxx</text><text x="706.2" y="365.2" font-family='"Liberation Serif","Noto Serif CJK SC",serif' font-size="17.5">指数地图</text><text x="456.5" y="386" font-family='"Liberation Serif","Noto Serif CJK SC",serif' font-size="14">绘图人</text><text x="497.9" y="386" font-family='"Liberation Serif",serif' font-size="14.6">QQ</text><text x="521" y="386" font-family='"Liberation Serif","Noto Serif CJK SC",serif' font-size="14">：</text><text x="536.2" y="386" font-family='"Liberation Serif",serif' font-size="14.2" textLength="70" lengthAdjust="spacingAndGlyphs">1084559387</text><rect x="0" y="151" width="888" height="97.5" fill="rgb(16,185,129)" fill-opacity="0.6"/><path d="M155.5 152V248" fill="none" stroke="#7d9c8a" stroke-width="0.9" stroke-dasharray="5.8 2"/><path d="M277.4 152V248" fill="none" stroke="#7d9c8a" stroke-width="0.9" stroke-dasharray="5.8 2"/><path d="M355.5 152V248" fill="none" stroke="#7d9c8a" stroke-width="0.9" stroke-dasharray="5.8 2"/><g fill="#fff" stroke="#fff" stroke-width="0.8" stroke-linejoin="round" font-family='"Liberation Sans","Noto Sans CJK SC",sans-serif' font-weight="bold" font-size="28"><text x="48.46" y="191.64" letter-spacing="2">往年</text><text x="108.7 126.97" y="192.2" font-size="29.5">12</text><text x="145" y="191.64">月</text><text x="175.24 193.51" y="192.2" font-size="29.5">22</text><text x="211.54" y="191.64" letter-spacing="2">日全国核辐射监测实时地图，核辐射监测背后的</text></g><g fill="#fff" stroke="#fff" stroke-width="0.8" stroke-linejoin="round" font-family='"Liberation Sans","Noto Sans CJK SC",sans-serif' font-weight="bold" font-size="28"><text x="235" y="230.64" letter-spacing="2">力量，学习变化塑造自信与成就</text></g></svg></body></html>
